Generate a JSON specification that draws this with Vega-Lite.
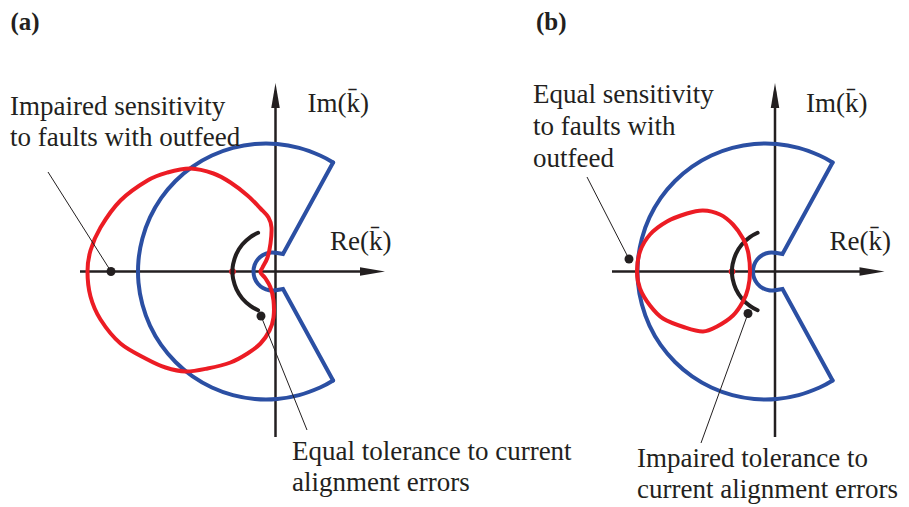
{
  "$schema": "https://vega.github.io/schema/vega-lite/v6.json",
  "background": "white",
  "padding": 0,
  "spacing": 0,
  "bounds": "flush",
  "config": {"view": {"stroke": null}},
  "datasets": {
    "blue": [
      {"s":"up","i":0,"x":0.3,"y":18.7},{"s":"up","i":1,"x":7.5,"y":17.5},{"s":"up","i":2,"x":57.6,"y":109.0},
      {"s":"outer","i":1,"x":57.6,"y":109.0},{"s":"outer","i":2,"x":44.6,"y":116.0},{"s":"outer","i":3,"x":23.6,"y":123.6},
      {"s":"outer","i":4,"x":1.7,"y":127.5},{"s":"outer","i":5,"x":-20.7,"y":127.5},{"s":"outer","i":6,"x":-42.6,"y":123.6},{"s":"outer","i":7,"x":-63.6,"y":116.0},
      {"s":"outer","i":8,"x":-82.9,"y":104.9},{"s":"outer","i":9,"x":-100.0,"y":90.5},{"s":"outer","i":10,"x":-114.4,"y":73.4},{"s":"outer","i":11,"x":-125.5,"y":54.1},
      {"s":"outer","i":12,"x":-133.1,"y":33.1},{"s":"outer","i":13,"x":-137.0,"y":11.2},{"s":"outer","i":14,"x":-137.0,"y":-11.2},{"s":"outer","i":15,"x":-133.1,"y":-33.1},
      {"s":"outer","i":16,"x":-125.5,"y":-54.1},{"s":"outer","i":17,"x":-114.4,"y":-73.4},{"s":"outer","i":18,"x":-100.0,"y":-90.5},{"s":"outer","i":19,"x":-82.9,"y":-104.9},
      {"s":"outer","i":20,"x":-63.6,"y":-116.0},{"s":"outer","i":21,"x":-42.6,"y":-123.6},{"s":"outer","i":22,"x":-20.7,"y":-127.5},{"s":"outer","i":23,"x":1.7,"y":-127.5},
      {"s":"outer","i":24,"x":23.6,"y":-123.6},{"s":"outer","i":25,"x":44.6,"y":-116.0},{"s":"outer","i":26,"x":57.6,"y":-109.0},
      {"s":"down","i":0,"x":57.6,"y":-109.0},{"s":"down","i":1,"x":7.5,"y":-17.5},{"s":"down","i":2,"x":0.3,"y":-18.7},
      {"s":"inner","i":28,"x":0.3,"y":-18.7},{"s":"inner","i":29,"x":-6.3,"y":-18.7},{"s":"inner","i":30,"x":-12.5,"y":-16.5},{"s":"inner","i":31,"x":-17.6,"y":-12.2},
      {"s":"inner","i":32,"x":-20.9,"y":-6.5},{"s":"inner","i":33,"x":-22.0,"y":0},{"s":"inner","i":34,"x":-20.9,"y":6.5},{"s":"inner","i":35,"x":-17.6,"y":12.2},
      {"s":"inner","i":36,"x":-12.5,"y":16.5},{"s":"inner","i":37,"x":-6.3,"y":18.7},{"s":"inner","i":38,"x":0.3,"y":18.7}
    ],
    "red": [
      {"p":"a","i":0,"x":-188,"y":0},{"p":"a","i":1,"x":-185,"y":21},{"p":"a","i":2,"x":-175,"y":44},{"p":"a","i":3,"x":-155,"y":71},
      {"p":"a","i":4,"x":-128,"y":91},{"p":"a","i":5,"x":-108,"y":99},{"p":"a","i":6,"x":-85,"y":103},{"p":"a","i":7,"x":-62,"y":98},
      {"p":"a","i":8,"x":-45,"y":89},{"p":"a","i":9,"x":-28,"y":76},{"p":"a","i":10,"x":-15,"y":63},{"p":"a","i":11,"x":-7,"y":54},
      {"p":"a","i":12,"x":-4,"y":44},{"p":"a","i":13,"x":-5,"y":28},{"p":"a","i":14,"x":-8,"y":14},{"p":"a","i":15,"x":-13,"y":4},
      {"p":"a","i":16,"x":-15,"y":-1},{"p":"a","i":17,"x":-10,"y":-7},{"p":"a","i":18,"x":-5,"y":-16},{"p":"a","i":19,"x":-2,"y":-29},
      {"p":"a","i":20,"x":-2,"y":-46},{"p":"a","i":21,"x":-6,"y":-59},{"p":"a","i":22,"x":-15,"y":-72},{"p":"a","i":23,"x":-28,"y":-82},
      {"p":"a","i":24,"x":-45,"y":-91},{"p":"a","i":25,"x":-68,"y":-97},{"p":"a","i":26,"x":-90,"y":-100},{"p":"a","i":27,"x":-110,"y":-96},
      {"p":"a","i":28,"x":-128,"y":-88},{"p":"a","i":29,"x":-155,"y":-72},{"p":"a","i":30,"x":-175,"y":-48},{"p":"a","i":31,"x":-185,"y":-25},
      {"p":"b","i":0,"x":-138,"y":0},{"p":"b","i":1,"x":-135,"y":20},{"p":"b","i":2,"x":-125,"y":37},{"p":"b","i":3,"x":-108,"y":50},
      {"p":"b","i":4,"x":-88,"y":58},{"p":"b","i":5,"x":-72,"y":61},{"p":"b","i":6,"x":-55,"y":57},{"p":"b","i":7,"x":-42,"y":47},
      {"p":"b","i":8,"x":-32,"y":33},{"p":"b","i":9,"x":-27,"y":20},{"p":"b","i":10,"x":-25,"y":0},{"p":"b","i":11,"x":-27,"y":-17},
      {"p":"b","i":12,"x":-32,"y":-30},{"p":"b","i":13,"x":-42,"y":-44},{"p":"b","i":14,"x":-58,"y":-55},{"p":"b","i":15,"x":-72,"y":-60},
      {"p":"b","i":16,"x":-90,"y":-56},{"p":"b","i":17,"x":-112,"y":-47},{"p":"b","i":18,"x":-125,"y":-34},{"p":"b","i":19,"x":-135,"y":-17}
    ],
    "arc": [
      {"i":0,"x":-17.4,"y":38.7},{"i":1,"x":-25.1,"y":34.4},{"i":2,"x":-33.2,"y":27.0},{"i":3,"x":-39.1,"y":17.7},
      {"i":4,"x":-42.4,"y":7.3},{"i":5,"x":-43.0,"y":0},{"i":6,"x":-42.4,"y":-7.3},{"i":7,"x":-39.1,"y":-17.7},
      {"i":8,"x":-33.2,"y":-27.0},{"i":9,"x":-25.1,"y":-34.4},{"i":10,"x":-17.4,"y":-38.7}
    ],
    "axes": [
      {"p":"a","x":-195.5,"x2":100,"y":0,"y2":0},{"p":"a","x":0,"x2":0,"y":-165.5,"y2":180},
      {"p":"b","x":-163,"x2":100,"y":0,"y2":0},{"p":"b","x":0,"x2":0,"y":-165.5,"y2":180}
    ],
    "heads": [
      {"p":"a","d":"right","x":97,"y":0},{"p":"a","d":"up","x":0,"y":176},
      {"p":"b","d":"right","x":97,"y":0},{"p":"b","d":"up","x":0,"y":176}
    ],
    "leaders": [
      {"p":"a","x":-227.5,"y":99.5,"x2":-164.5,"y2":0},{"p":"a","x":-14.5,"y":-44.5,"x2":31.5,"y2":-158.5},
      {"p":"b","x":-188,"y":94.5,"x2":-146,"y2":12.5},{"p":"b","x":-27,"y":-42,"x2":-74,"y2":-171.5}
    ],
    "dots": [
      {"p":"a","x":-164.5,"y":0},{"p":"a","x":-14.5,"y":-44.5},
      {"p":"b","x":-146,"y":12.5},{"p":"b","x":-27,"y":-42}
    ],
    "marks": [
      {"p":"a","x":-43,"y":0},{"p":"b","x":-43,"y":0}
    ],
    "labels": [
      {"p":"a","x":-265.5,"y":156.5,"t":"Impaired sensitivity"},
      {"p":"a","x":-265.5,"y":125.5,"t":"to faults with outfeed"},
      {"p":"a","x":32,"y":159.5,"t":"Im(k̄)"},
      {"p":"a","x":54.5,"y":21.5,"t":"Re(k̄)"},
      {"p":"a","x":16.5,"y":-188.5,"t":"Equal tolerance to current"},
      {"p":"a","x":16.5,"y":-219.5,"t":"alignment errors"},
      {"p":"b","x":-242,"y":168.5,"t":"Equal sensitivity"},
      {"p":"b","x":-242,"y":136.5,"t":"to faults with"},
      {"p":"b","x":-242,"y":104.5,"t":"outfeed"},
      {"p":"b","x":31,"y":159.5,"t":"Im(k̄)"},
      {"p":"b","x":54.5,"y":21.5,"t":"Re(k̄)"},
      {"p":"b","x":-138,"y":-195.5,"t":"Impaired tolerance to"},
      {"p":"b","x":-138,"y":-226.5,"t":"current alignment errors"}
    ],
    "titles": [
      {"p":"a","x":-265,"y":241.5,"t":"(a)"},
      {"p":"b","x":-239,"y":241.5,"t":"(b)"}
    ]
  },
  "hconcat": [
    {
      "width": 454, "height": 507,
      "encoding": {
        "x": {"field":"x","type":"quantitative","scale":{"domain":[-275.5,178.5],"nice":false,"zero":false},"axis":null},
        "y": {"field":"y","type":"quantitative","scale":{"domain":[-235.5,271.5],"nice":false,"zero":false},"axis":null}
      },
      "layer": [
        {"data":{"name":"axes"},"transform":[{"filter":"datum.p==='a'"}],
         "mark":{"type":"rule","color":"#231f20","strokeWidth":2.5},
         "encoding":{"x2":{"field":"x2"},"y2":{"field":"y2"}}},
        {"data":{"name":"heads"},"transform":[{"filter":"datum.p==='a' && datum.d==='right'"}],
         "mark":{"type":"point","shape":"M-1,-0.34L1,0L-1,0.34Z","filled":true,"size":625,"color":"#231f20","opacity":1,"strokeWidth":0}},
        {"data":{"name":"heads"},"transform":[{"filter":"datum.p==='a' && datum.d==='up'"}],
         "mark":{"type":"point","shape":"M-0.34,1L0,-1L0.34,1Z","filled":true,"size":625,"color":"#231f20","opacity":1,"strokeWidth":0}},
        {"data":{"name":"blue"},"transform":[{"filter":"datum.s==='outer' || datum.s==='inner'"}],
         "mark":{"type":"line","color":"#2b4fa3","strokeWidth":4,"strokeCap":"round","interpolate":"cardinal"},
         "encoding":{"detail":{"field":"s"},"order":{"field":"i","type":"quantitative"}}},
        {"data":{"name":"blue"},"transform":[{"filter":"datum.s==='up' || datum.s==='down'"}],
         "mark":{"type":"line","color":"#2b4fa3","strokeWidth":4,"strokeCap":"round","strokeJoin":"miter","interpolate":"linear"},
         "encoding":{"detail":{"field":"s"},"order":{"field":"i","type":"quantitative"}}},
        {"data":{"name":"marks"},"transform":[{"filter":"datum.p==='a'"}],
         "mark":{"type":"point","filled":true,"size":45,"color":"#ec1c24","opacity":1,"strokeWidth":0}},
        {"data":{"name":"arc"},
         "mark":{"type":"line","color":"#231f20","strokeWidth":4,"strokeCap":"round","interpolate":"cardinal"},
         "encoding":{"order":{"field":"i","type":"quantitative"}}},
        {"data":{"name":"red"},"transform":[{"filter":"datum.p==='a'"}],
         "mark":{"type":"line","color":"#ec1c24","strokeWidth":4,"interpolate":"cardinal-closed"},
         "encoding":{"order":{"field":"i","type":"quantitative"}}},
        {"data":{"name":"leaders"},"transform":[{"filter":"datum.p==='a'"}],
         "mark":{"type":"rule","color":"#231f20","strokeWidth":1},
         "encoding":{"x2":{"field":"x2"},"y2":{"field":"y2"}}},
        {"data":{"name":"dots"},"transform":[{"filter":"datum.p==='a'"}],
         "mark":{"type":"point","filled":true,"size":80,"color":"#231f20","opacity":1,"strokeWidth":0}},
        {"data":{"name":"labels"},"transform":[{"filter":"datum.p==='a'"}],
         "mark":{"type":"text","align":"left","baseline":"alphabetic","font":"Liberation Serif","fontSize":27,"color":"#231f20"},
         "encoding":{"text":{"field":"t"}}},
        {"data":{"name":"titles"},"transform":[{"filter":"datum.p==='a'"}],
         "mark":{"type":"text","align":"left","baseline":"alphabetic","font":"Liberation Serif","fontSize":25,"fontWeight":"bold","color":"#231f20"},
         "encoding":{"text":{"field":"t"}}}
      ]
    },
    {
      "width": 455, "height": 507,
      "encoding": {
        "x": {"field":"x","type":"quantitative","scale":{"domain":[-321,134],"nice":false,"zero":false},"axis":null},
        "y": {"field":"y","type":"quantitative","scale":{"domain":[-235.5,271.5],"nice":false,"zero":false},"axis":null}
      },
      "layer": [
        {"data":{"name":"axes"},"transform":[{"filter":"datum.p==='b'"}],
         "mark":{"type":"rule","color":"#231f20","strokeWidth":2.5},
         "encoding":{"x2":{"field":"x2"},"y2":{"field":"y2"}}},
        {"data":{"name":"heads"},"transform":[{"filter":"datum.p==='b' && datum.d==='right'"}],
         "mark":{"type":"point","shape":"M-1,-0.34L1,0L-1,0.34Z","filled":true,"size":625,"color":"#231f20","opacity":1,"strokeWidth":0}},
        {"data":{"name":"heads"},"transform":[{"filter":"datum.p==='b' && datum.d==='up'"}],
         "mark":{"type":"point","shape":"M-0.34,1L0,-1L0.34,1Z","filled":true,"size":625,"color":"#231f20","opacity":1,"strokeWidth":0}},
        {"data":{"name":"blue"},"transform":[{"filter":"datum.s==='outer' || datum.s==='inner'"}],
         "mark":{"type":"line","color":"#2b4fa3","strokeWidth":4,"strokeCap":"round","interpolate":"cardinal"},
         "encoding":{"detail":{"field":"s"},"order":{"field":"i","type":"quantitative"}}},
        {"data":{"name":"blue"},"transform":[{"filter":"datum.s==='up' || datum.s==='down'"}],
         "mark":{"type":"line","color":"#2b4fa3","strokeWidth":4,"strokeCap":"round","strokeJoin":"miter","interpolate":"linear"},
         "encoding":{"detail":{"field":"s"},"order":{"field":"i","type":"quantitative"}}},
        {"data":{"name":"marks"},"transform":[{"filter":"datum.p==='b'"}],
         "mark":{"type":"point","filled":true,"size":45,"color":"#ec1c24","opacity":1,"strokeWidth":0}},
        {"data":{"name":"arc"},
         "mark":{"type":"line","color":"#231f20","strokeWidth":4,"strokeCap":"round","interpolate":"cardinal"},
         "encoding":{"order":{"field":"i","type":"quantitative"}}},
        {"data":{"name":"red"},"transform":[{"filter":"datum.p==='b'"}],
         "mark":{"type":"line","color":"#ec1c24","strokeWidth":4,"interpolate":"cardinal-closed"},
         "encoding":{"order":{"field":"i","type":"quantitative"}}},
        {"data":{"name":"leaders"},"transform":[{"filter":"datum.p==='b'"}],
         "mark":{"type":"rule","color":"#231f20","strokeWidth":1},
         "encoding":{"x2":{"field":"x2"},"y2":{"field":"y2"}}},
        {"data":{"name":"dots"},"transform":[{"filter":"datum.p==='b'"}],
         "mark":{"type":"point","filled":true,"size":80,"color":"#231f20","opacity":1,"strokeWidth":0}},
        {"data":{"name":"labels"},"transform":[{"filter":"datum.p==='b'"}],
         "mark":{"type":"text","align":"left","baseline":"alphabetic","font":"Liberation Serif","fontSize":27,"color":"#231f20"},
         "encoding":{"text":{"field":"t"}}},
        {"data":{"name":"titles"},"transform":[{"filter":"datum.p==='b'"}],
         "mark":{"type":"text","align":"left","baseline":"alphabetic","font":"Liberation Serif","fontSize":25,"fontWeight":"bold","color":"#231f20"},
         "encoding":{"text":{"field":"t"}}}
      ]
    }
  ]
}
